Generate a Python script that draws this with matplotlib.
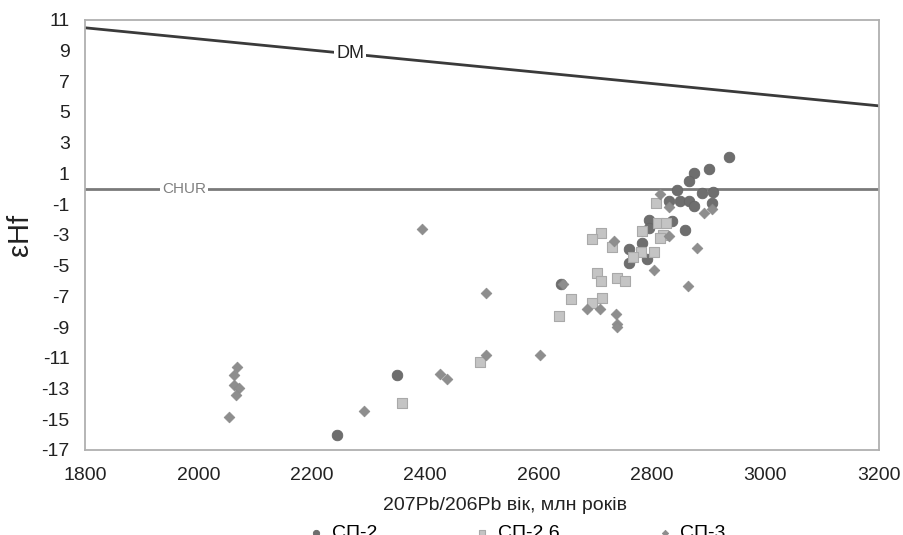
import matplotlib
matplotlib.use("Agg")
import matplotlib.pyplot as plt

plt.rcParams['font.family'] = ['Liberation Sans', 'DejaVu Sans']
plt.rcParams['axes.unicode_minus'] = False

# СП-2 (circles)
sp2_x = [2936, 2901, 2875, 2865, 2844, 2889, 2907, 2830, 2850, 2865, 2875, 2906,
         2794, 2835, 2859, 2794, 2782, 2759, 2791, 2759, 2639, 2351, 2244]
sp2_y = [2.1, 1.3, 1.0, 0.5, -0.1, -0.3, -0.2, -0.8, -0.8, -0.8, -1.1, -0.95,
         -2.0, -2.1, -2.7, -2.55, -3.5, -3.9, -4.6, -4.85, -6.2, -12.1, -16.05]

# СП-2.6 (squares)
sp26_x = [2807, 2811, 2825, 2783, 2711, 2695, 2819, 2814, 2729, 2781, 2803,
          2767, 2703, 2710, 2739, 2752, 2658, 2712, 2695, 2636, 2497, 2360]
sp26_y = [-0.95, -2.2, -2.2, -2.75, -2.85, -3.25, -3.0, -3.2, -3.8, -4.1, -4.1,
          -4.45, -5.5, -6.0, -5.8, -6.0, -7.2, -7.1, -7.45, -8.25, -11.25, -13.95]

# СП-3 (diamonds)
sp3_x = [2395, 2507, 2644, 2685, 2708, 2508, 2603, 2426, 2438, 2069, 2063, 2062,
         2072, 2066, 2054, 2293, 2815, 2831, 2891, 2906, 2733, 2830, 2879, 2803,
         2863, 2736, 2738, 2739]
sp3_y = [-2.6, -6.8, -6.2, -7.8, -7.85, -10.85, -10.85, -12.05, -12.4, -11.6, -12.1, -12.75,
         -13.0, -13.4, -14.85, -14.45, -0.35, -1.2, -1.55, -1.3, -3.4, -3.05, -3.85, -5.3,
         -6.3, -8.15, -8.8, -9.0]

# reference lines
dm_x = [1800, 3200]
dm_y = [10.48, 5.4]
chur_x = [1800, 3200]
chur_y = [0, 0]

fig = plt.figure(figsize=(9.04, 5.35), dpi=100)
ax = fig.add_axes([0.094, 0.159, 0.878, 0.804])

ax.plot(dm_x, dm_y, color='#3a3a3a', lw=2, zorder=2)
ax.plot(chur_x, chur_y, color='#7a7a7a', lw=2, zorder=2)
ax.text(2268, 10.48 + (5.4 - 10.48) * (2268 - 1800) / 1400, 'DM', fontsize=13,
        color='#222222', ha='center', va='center', zorder=3,
        bbox=dict(facecolor='white', edgecolor='none', pad=1.5))
ax.text(1975, 0, 'CHUR', fontsize=11, color='#808080', ha='center', va='center',
        zorder=3, bbox=dict(facecolor='white', edgecolor='none', pad=1.5))

ax.scatter(sp2_x, sp2_y, s=58, marker='o', color='#6e6e6e', edgecolors='#666666',
           linewidths=0.6, label='СП-2', zorder=4)
ax.scatter(sp26_x, sp26_y, s=58, marker='s', color='#c4c4c4', edgecolors='#a9a9a9',
           linewidths=0.8, label='СП-2.6', zorder=4)
ax.scatter(sp3_x, sp3_y, s=30, marker='D', color='#8e8e8e', edgecolors='#8a8a8a',
           linewidths=0.5, label='СП-3', zorder=4)

ax.set_xlim(1800, 3200)
ax.set_ylim(-17, 11)
ax.set_xticks(range(1800, 3201, 200))
ax.set_yticks(range(-17, 12, 2))
ax.tick_params(axis='both', length=0, labelsize=14, colors='#222222')
ax.tick_params(axis='y', pad=11)
ax.tick_params(axis='x', pad=12)
for sp in ax.spines.values():
    sp.set_color('#b0b0b0')
    sp.set_linewidth(1.3)

ax.set_xlabel('207Pb/206Pb вік, млн років', fontsize=14, color='#222222')
ax.xaxis.set_label_coords(0.529, -0.11)
ax.set_ylabel('εHf', fontsize=21, color='#222222')
ax.yaxis.set_label_coords(-0.064, 0.5)

fig.legend(loc='center', bbox_to_anchor=(0.572, 0.004), ncol=3, frameon=False,
           fontsize=14, markerscale=0.6, handlelength=0.8, handletextpad=0.4,
           columnspacing=5.0, borderpad=0)

fig.savefig('out.png', dpi=100)
